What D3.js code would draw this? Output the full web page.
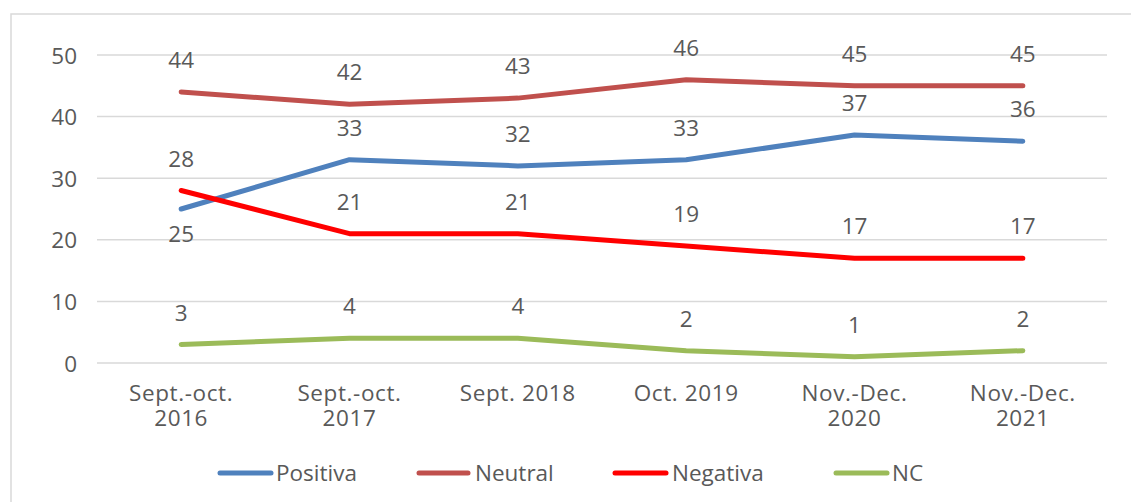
<!DOCTYPE html>
<html><head><meta charset="utf-8">
<script src="https://cdn.jsdelivr.net/npm/d3@7"></script>
<style>
html,body{margin:0;padding:0;background:#fff;}
svg text{font-family:"Century Gothic","URW Gothic","Open Sans",sans-serif;font-weight:400;fill:#595959;}
</style></head><body>
<svg id="c" width="1131" height="502"></svg>
<script>
const categories = [["Sept.-oct.","2016"],["Sept.-oct.","2017"],["Sept. 2018"],["Oct. 2019"],["Nov.-Dec.","2020"],["Nov.-Dec.","2021"]];
const positiva = [25,33,32,33,37,36];
const neutral = [44,42,43,46,45,45];
const negativa = [28,21,21,19,17,17];
const nc = [3,4,4,2,1,2];
const yTicks = [0,10,20,30,40,50];
const seriesNames = ["Positiva","Neutral","Negativa","NC"];
const seriesColors = ["#4F81BD","#C0504D","#FF0000","#9BBB59"];
// label placement: -1 above, +1 below
const positivaPos = [1,-1,-1,-1,-1,-1];

const FS = 22.5;
const svg = d3.select("#c");
svg.append("rect").attr("x",11).attr("y",14).attr("width",1140).attr("height",520)
  .attr("fill","none").attr("stroke","#D9D9D9").attr("stroke-width",1.5);

const x = d3.scalePoint().domain(d3.range(categories.length)).range([97,1107]).padding(0.5);
const y = d3.scaleLinear().domain([0,50]).range([363,55]);

const g = svg.append("g");
g.selectAll("line.grid").data(yTicks).join("line")
  .attr("x1",97).attr("x2",1107).attr("y1",d=>y(d)).attr("y2",d=>y(d))
  .attr("stroke","#D9D9D9").attr("stroke-width",1.5);
const yAxis = d3.axisLeft(y).tickValues(yTicks).tickSize(0).tickPadding(0);
const ya = svg.append("g").attr("transform","translate(77,0)").call(yAxis);
ya.select(".domain").remove();
ya.selectAll("text").attr("font-size",FS).attr("dy","0.36em").attr("font-family",null).attr("fill","#595959");

const xl = svg.append("g");
categories.forEach((c,i)=>{
  c.forEach((line,j)=>{
    xl.append("text").attr("x",x(i)).attr("y",401 + j*25).attr("text-anchor","middle")
      .attr("font-size",FS).attr("letter-spacing",0.6).text(line);
  });
});

const data = [positiva,neutral,negativa,nc];
const line = d3.line().x((d,i)=>x(i)).y(d=>y(d));
data.forEach((s,k)=>{
  g.append("path").datum(s).attr("d",line).attr("fill","none")
   .attr("stroke",seriesColors[k]).attr("stroke-width",5).attr("stroke-linecap","round").attr("stroke-linejoin","round");
});
data.forEach((s,k)=>{
  g.selectAll(null).data(s).join("text")
   .attr("x",(d,i)=>x(i))
   .attr("y",(d,i)=>{const p = k===0?positivaPos[i]:-1; return p<0? y(d)-32 : y(d)+25;})
   .attr("dy","0.36em").attr("text-anchor","middle").attr("font-size",FS).text(d=>d);
});

const legLine = [[218,273],[417,470],[613,668],[834,889]];
const legText = [276,475,672,892];
seriesNames.forEach((n,k)=>{
  svg.append("line").attr("x1",legLine[k][0]+2).attr("x2",legLine[k][1]-2).attr("y1",473).attr("y2",473)
    .attr("stroke",seriesColors[k]).attr("stroke-width",5).attr("stroke-linecap","round");
  svg.append("text").attr("x",legText[k]).attr("y",473).attr("dy","0.36em").attr("font-size",FS).text(n);
});
</script></body></html>
